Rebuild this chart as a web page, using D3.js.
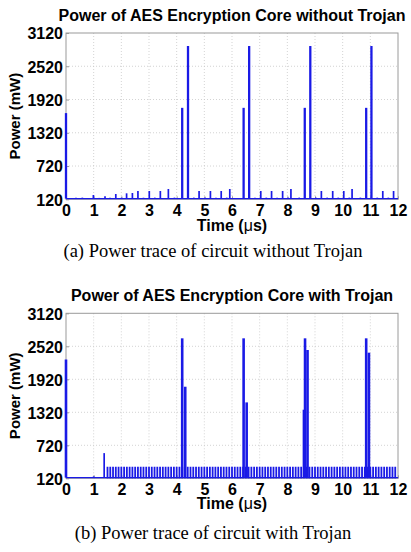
<!DOCTYPE html>
<html><head><meta charset="utf-8">
<script src="https://cdn.jsdelivr.net/npm/d3@7"></script>
<style>html,body{margin:0;padding:0;background:#fff;}svg{display:block;}</style>
</head><body>
<script>
// ---------- DATA ----------
const xTicks = [0,1,2,3,4,5,6,7,8,9,10,11,12];
const yTicks = [120,720,1320,1920,2520,3120];

const titleA = "Power of AES Encryption Core without Trojan";
const titleB = "Power of AES Encryption Core with Trojan";
const captionA = "(a) Power trace of circuit without Trojan";
const captionB = "(b) Power trace of circuit with Trojan";

// baseline power level (mW)
const baseA = 132;
const baseB = 132;

// Without Trojan: spike times (us) and peak power (mW)
const spikeTimesA = [0, 0.36, 0.59, 0.78, 0.99, 1.2, 1.41, 1.59, 1.80, 2.01, 2.19, 2.40, 2.60, 2.80, 3.01, 3.21, 3.41, 3.70, 3.92,
  4.20, 4.41, 4.62, 4.81, 5.03, 5.22, 5.42, 5.61, 5.81, 5.92, 6.42, 6.62, 6.83, 7.04, 7.24, 7.43, 7.63, 7.83, 8.03, 8.13, 8.43,
  8.63, 8.83, 9.03, 9.23, 9.44, 9.64, 9.84, 10.04, 10.24, 10.34, 10.64, 10.85, 11.04, 11.25, 11.45, 11.65, 11.84];
const spikeValuesA = [1675, 148, 150, 142, 198, 145, 174, 146, 216, 150, 228, 234, 270, 148, 270, 150, 270, 306, 150,
  1770, 2885, 150, 270, 150, 270, 150, 270, 150, 306, 1770, 2885, 150, 270, 150, 270, 150, 270, 150, 306, 150,
  1770, 2885, 150, 270, 150, 270, 150, 270, 150, 306, 150, 1770, 2885, 150, 270, 150, 270];

// With Trojan: large spikes
const spikeTimesB = [0, 0.45, 1.0, 1.38, 4.20, 4.31, 6.42, 6.53, 8.60, 8.64, 8.73, 10.85, 10.95];
const spikeValuesB = [2280, 140, 155, 578, 2665, 1785, 2665, 1500, 1367, 2665, 2453, 2665, 2404];

// With Trojan: periodic Trojan activity comb
const combTimesB = [1.5,1.6,1.7,1.8,1.9,2.0,2.1,2.2,2.3,2.4,2.5,2.6,2.7,2.8,2.9,3.0,3.1,3.2,3.3,3.4,3.5,3.6,3.7,3.8,3.9,
  4.0,4.1,4.2,4.3,4.4,4.5,4.6,4.7,4.8,4.9,5.0,5.1,5.2,5.3,5.4,5.5,5.6,5.7,5.8,5.9,6.0,6.1,6.2,6.3,6.4,6.5,6.6,6.7,6.8,6.9,
  7.0,7.1,7.2,7.3,7.4,7.5,7.6,7.7,7.8,7.9,8.0,8.1,8.2,8.3,8.4,8.5,8.6,8.7,8.8,8.9,9.0,9.1,9.2,9.3,9.4,9.5,9.6,9.7,9.8,9.9,
  10.0,10.1,10.2,10.3,10.4,10.5,10.6,10.7,10.8,10.9,11.0,11.1,11.2,11.3,11.4,11.5,11.6,11.7,11.8,11.9];
const combValuesB = [330,330,330,330,330,330,330,330,330,330,330,330,330,330,330,330,330,330,330,330,330,330,330,330,330,
  330,330,330,330,330,330,330,330,330,330,330,330,330,330,330,330,330,330,330,330,330,330,330,330,330,330,330,330,330,330,
  330,330,330,330,330,330,330,330,330,330,330,330,330,330,330,330,330,330,330,330,330,330,330,330,330,330,330,330,330,330,
  330,330,330,330,330,330,330,330,330,330,330,330,330,330,330,330,330,330,330,330];

// ---------- DRAW ----------
const W = 411, H = 552;
const svg = d3.select("body").append("svg").attr("width", W).attr("height", H);
svg.append("rect").attr("width", W).attr("height", H).attr("fill", "#fff");

const BLUE = "#1a1ae6";
const plotL = 66, plotR = 398;

function panel(cfg) {
  const x = d3.scaleLinear().domain([0, 12]).range([plotL, plotR]);
  const y = d3.scaleLinear().domain([120, 3120]).range([cfg.bottom, cfg.top]);
  const g = svg.append("g");

  // grid
  g.append("g").selectAll("line").data(xTicks.slice(1, -1)).join("line")
    .attr("x1", d => x(d)).attr("x2", d => x(d)).attr("y1", cfg.top).attr("y2", cfg.bottom)
    .attr("stroke", "#c8c8c8").attr("stroke-width", 0.8).attr("stroke-dasharray", "1,2");
  g.append("g").selectAll("line").data(yTicks.slice(1, -1)).join("line")
    .attr("y1", d => y(d)).attr("y2", d => y(d)).attr("x1", plotL).attr("x2", plotR)
    .attr("stroke", "#c8c8c8").attr("stroke-width", 0.8).attr("stroke-dasharray", "1,2");

  // box
  g.append("rect").attr("x", plotL).attr("y", cfg.top).attr("width", plotR - plotL).attr("height", cfg.bottom - cfg.top)
    .attr("fill", "none").attr("stroke", "#9a9a9a").attr("stroke-width", 1);

  // axes (inward ticks, labels)
  const xa = d3.axisBottom(x).tickValues(xTicks).tickSize(-3).tickPadding(8).tickFormat(d3.format("d"));
  const ya = d3.axisLeft(y).tickValues(yTicks).tickSize(-3).tickPadding(3).tickFormat(d3.format("d"));
  const gx = g.append("g").attr("transform", `translate(0,${cfg.bottom})`).call(xa);
  const gy = g.append("g").attr("transform", `translate(${plotL},0)`).call(ya);
  [gx, gy].forEach(a => {
    a.select(".domain").remove();
    a.selectAll(".tick line").attr("stroke", "#9a9a9a");
    a.selectAll(".tick text").attr("fill", "#000").attr("font-family", "Liberation Sans, Arial, sans-serif")
      .attr("font-weight", "bold").attr("font-size", "16px");
  });
  gx.selectAll(".tick text").attr("dy", null).attr("y", cfg.tickBase - cfg.bottom);
  gy.selectAll(".tick text").attr("dy", "0.36em");

  // data
  const dg = g.append("g");
  // baseline
  dg.append("line").attr("x1", x(0)).attr("x2", x(12)).attr("y1", y(cfg.base)).attr("y2", y(cfg.base))
    .attr("stroke", BLUE).attr("stroke-width", 1.3);
  if (cfg.combT) {
    dg.append("g").selectAll("line").data(cfg.combT.map((t, i) => [t, cfg.combV[i]])).join("line")
      .attr("x1", d => x(d[0])).attr("x2", d => x(d[0])).attr("y1", y(120)).attr("y2", d => y(d[1]))
      .attr("stroke", BLUE).attr("stroke-width", 1.8);
  }
  dg.append("g").selectAll("line").data(cfg.times.map((t, i) => [t, cfg.values[i]])).join("line")
    .attr("x1", d => x(d[0])).attr("x2", d => x(d[0])).attr("y1", y(cfg.base)).attr("y2", d => y(d[1]))
    .attr("stroke", BLUE).attr("stroke-width", d => d[1] > 1000 ? cfg.bigW : 1.7);

  // title
  svg.append("text").attr("x", (plotL + plotR) / 2).attr("y", cfg.titleBase).attr("text-anchor", "middle")
    .attr("font-family", "Liberation Sans, Arial, sans-serif").attr("font-weight", "bold").attr("font-size", "16px")
    .text(cfg.title);
  // x label
  const xl = svg.append("text").attr("x", (plotL + plotR) / 2).attr("y", cfg.xlabBase).attr("text-anchor", "middle")
    .attr("font-family", "Liberation Sans, Arial, sans-serif").attr("font-weight", "bold").attr("font-size", "16px");
  xl.append("tspan").text("Time (");
  xl.append("tspan").attr("font-weight", "normal").text("\u03bc");
  xl.append("tspan").text("s)");
  // y label
  svg.append("text").attr("transform", `translate(${cfg.ylabX},${(cfg.top + cfg.bottom) / 2}) rotate(-90)`)
    .attr("text-anchor", "middle").attr("font-family", "Liberation Sans, Arial, sans-serif")
    .attr("font-weight", "bold").attr("font-size", "15px").text("Power (mW)");
  // caption
  svg.append("text").attr("x", 213).attr("y", cfg.capBase).attr("text-anchor", "middle")
    .attr("font-family", "Liberation Serif, Times New Roman, serif").attr("font-size", "18.5px").text(cfg.caption);
}

panel({top: 33, bottom: 199.3, tickBase: 216, titleBase: 20.5, xlabBase: 231, capBase: 257, ylabX: 20,
  base: baseA, times: spikeTimesA, values: spikeValuesA, bigW: 2.3, title: titleA, caption: captionA});
panel({top: 313.3, bottom: 478.3, tickBase: 495, titleBase: 300.7, xlabBase: 509, capBase: 539, ylabX: 20,
  base: baseB, times: spikeTimesB, values: spikeValuesB, combT: combTimesB, combV: combValuesB, bigW: 2.6,
  title: titleB, caption: captionB});
</script>
</body></html>
